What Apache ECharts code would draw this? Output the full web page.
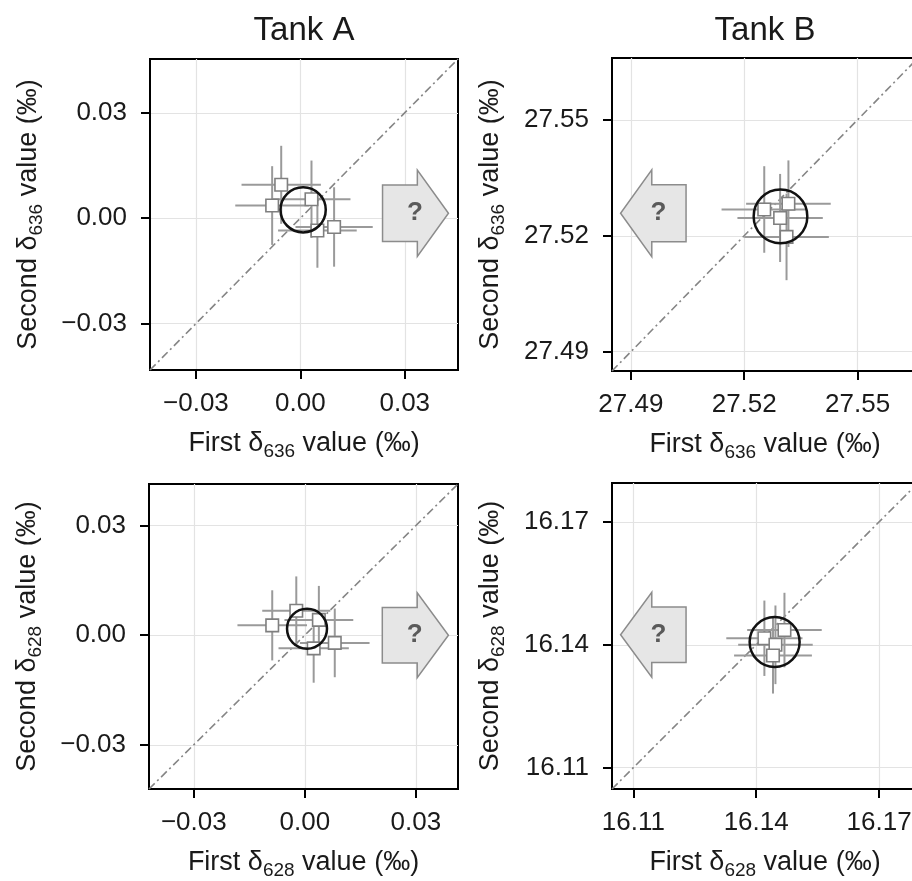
<!DOCTYPE html>
<html>
<head>
<meta charset="utf-8">
<script src="https://cdn.jsdelivr.net/npm/echarts@6/dist/echarts.min.js"></script>
<style>
html, body { margin: 0; padding: 0; background: #fff; overflow: hidden; }
#chart { width: 920px; height: 881px; }
</style>
</head>
<body>
<div id="chart"></div>
<script>
// tick labels
var ticksA = [-0.03, 0, 0.03];
var ticksB636 = [27.49, 27.52, 27.55];
var ticksB628 = [16.11, 16.14, 16.17];

// axis limits (same for first and second value)
var rangeA636 = [-0.0432, 0.0453];
var rangeB636 = [27.485, 27.566];
var rangeA628 = [-0.0421, 0.0414];
var rangeB628 = [16.1048, 16.1795];

// Tank A, d636
var firstA636 = [-0.0055, -0.0081, 0.0032, 0.0049, 0.0097];
var secondA636 = [0.0095, 0.0036, 0.0054, -0.0035, -0.0025];
var errFirstA636 = [0.0114, 0.0106, 0.0112, 0.0113, 0.0111];
var errSecondA636 = [0.0111, 0.0112, 0.0110, 0.0106, 0.0113];
var meanA636 = [0.0008, 0.0024];
var radiusA636 = 0.0065;

// Tank B, d636
var firstB636 = [27.5253, 27.5317, 27.5295, 27.5312];
var secondB636 = [27.5268, 27.5283, 27.5246, 27.5197];
var errFirstB636 = [0.0113, 0.0112, 0.0113, 0.0112];
var errSecondB636 = [0.0112, 0.0112, 0.0114, 0.0112];
var meanB636 = [27.5296, 27.5250];
var radiusB636 = 0.0071;

// Tank A, d628
var firstA628 = [-0.0088, -0.0023, 0.0038, 0.0024, 0.0081];
var secondA628 = [0.0027, 0.0067, 0.0042, -0.0036, -0.0021];
var errFirstA628 = [0.0094, 0.0092, 0.0093, 0.0095, 0.0094];
var errSecondA628 = [0.0096, 0.0094, 0.0093, 0.0094, 0.0094];
var meanA628 = [0.0006, 0.0018];
var radiusA628 = 0.0054;

// Tank B, d628
var firstB628 = [16.1420, 16.1469, 16.1447, 16.1441];
var secondB628 = [16.1416, 16.1436, 16.1400, 16.1374];
var errFirstB628 = [0.0093, 0.0091, 0.0091, 0.0095];
var errSecondB628 = [0.0092, 0.0091, 0.0096, 0.0093];
var meanB628 = [16.1445, 16.1407];
var radiusB628 = 0.0061;

var font = 'Liberation Sans';
var ink = '#1a1a1a';

var panels = [
    {iso: '636', ticks: ticksA, range: rangeA636, first: firstA636, second: secondA636,
        ex: errFirstA636, ey: errSecondA636, mean: meanA636, radius: radiusA636, dir: 1},
    {iso: '636', ticks: ticksB636, range: rangeB636, first: firstB636, second: secondB636,
        ex: errFirstB636, ey: errSecondB636, mean: meanB636, radius: radiusB636, dir: -1},
    {iso: '628', ticks: ticksA, range: rangeA628, first: firstA628, second: secondA628,
        ex: errFirstA628, ey: errSecondA628, mean: meanA628, radius: radiusA628, dir: 1},
    {iso: '628', ticks: ticksB628, range: rangeB628, first: firstB628, second: secondB628,
        ex: errFirstB628, ey: errSecondB628, mean: meanB628, radius: radiusB628, dir: -1}
];

var grids = [
    {left: 150, top: 59, width: 308, height: 311},
    {left: 612, top: 58, width: 306, height: 313},
    {left: 149, top: 484, width: 309, height: 311},
    {left: 612, top: 483, width: 306, height: 311}
];

function fmt(v) {
    return v.toFixed(2).replace('-', '\u2212');
}

var nameStyle = {
    fontSize: 27, fontFamily: font, color: ink, lineHeight: 34,
    rich: {s: {fontSize: 19, fontFamily: font, color: ink, lineHeight: 18, verticalAlign: 'bottom'}}
};

function axis(i, p, isX) {
    return {
        gridIndex: i,
        type: 'value',
        min: p.range[0],
        max: p.range[1],
        name: (isX ? 'First' : 'Second') + ' \u03b4{s|' + p.iso + '} value (\u2030)',
        nameLocation: 'middle',
        nameGap: isX ? 57 : 104,
        nameRotate: isX ? 0 : 90,
        nameTextStyle: nameStyle,
        axisLine: {show: true, onZero: false, lineStyle: {color: '#000', width: 2}},
        axisTick: {show: true, customValues: p.ticks, length: 9, lineStyle: {color: '#000', width: 2}},
        axisLabel: {customValues: p.ticks, formatter: fmt, fontSize: 26, fontFamily: font, color: ink, margin: isX ? 21 : 23},
        splitLine: {show: true, lineStyle: {color: '#e3e3e3', width: 1.2}}
    };
}

var xAxes = [], yAxes = [], series = [];
panels.forEach(function (p, i) {
    xAxes.push(axis(i, p, true));
    yAxes.push(axis(i, p, false));

    var pts = p.first.map(function (v, k) {
        return [v, p.second[k], p.ex[k], p.ey[k]];
    });

    // 1:1 line
    series.push({
        type: 'line', xAxisIndex: i, yAxisIndex: i, z: 1, silent: true,
        symbol: 'none',
        data: [[p.range[0], p.range[0]], [p.range[1], p.range[1]]],
        lineStyle: {color: '#858585', width: 1.6, type: [8, 3.5, 2, 3.5]}
    });

    // error bars
    series.push({
        type: 'custom', xAxisIndex: i, yAxisIndex: i, z: 2, silent: true,
        data: pts,
        encode: {x: 0, y: 1},
        renderItem: function (params, api) {
            var x = api.value(0), y = api.value(1), ex = api.value(2), ey = api.value(3);
            var l = api.coord([x - ex, y]), r = api.coord([x + ex, y]);
            var t = api.coord([x, y + ey]), b = api.coord([x, y - ey]);
            var st = {stroke: '#9a9a9a', lineWidth: 2};
            return {type: 'group', children: [
                {type: 'line', shape: {x1: l[0], y1: l[1], x2: r[0], y2: r[1]}, style: st},
                {type: 'line', shape: {x1: t[0], y1: t[1], x2: b[0], y2: b[1]}, style: st}
            ]};
        }
    });

    // individual measurements
    series.push({
        type: 'scatter', xAxisIndex: i, yAxisIndex: i, z: 3, silent: true,
        symbol: 'rect', symbolSize: 12.5,
        data: pts.map(function (d) { return [d[0], d[1]]; }),
        itemStyle: {color: '#fff', borderColor: '#7f7f7f', borderWidth: 1.6, opacity: 1}
    });

    // mean circle
    series.push({
        type: 'custom', xAxisIndex: i, yAxisIndex: i, z: 4, silent: true,
        data: [[p.mean[0], p.mean[1], p.radius]],
        encode: {x: 0, y: 1},
        renderItem: function (params, api) {
            var c = api.coord([api.value(0), api.value(1)]);
            var e = api.coord([api.value(0) + api.value(2), api.value(1)]);
            return {type: 'circle', shape: {cx: c[0], cy: c[1], r: e[0] - c[0]},
                style: {fill: 'none', stroke: '#111', lineWidth: 2.5}};
        }
    });

    // block arrow with question mark
    series.push({
        type: 'custom', xAxisIndex: i, yAxisIndex: i, z: 5, silent: true,
        data: [[p.mean[0], p.mean[1]]],
        encode: {x: 0, y: 1},
        renderItem: function (params, api) {
            var cs = params.coordSys;
            var w = cs.width, h = cs.height;
            var cy = cs.y + h * 0.496;
            var bh = h * 0.091, hh = h * 0.139;
            var f = p.dir > 0 ? [0.755, 0.868, 0.969] : [0.242, 0.130, 0.028];
            var x0 = cs.x + w * f[0], x1 = cs.x + w * f[1], x2 = cs.x + w * f[2];
            var poly = [[x0, cy - bh], [x1, cy - bh], [x1, cy - hh], [x2, cy],
                [x1, cy + hh], [x1, cy + bh], [x0, cy + bh]];
            var tx = cs.x + w * (p.dir > 0 ? 0.86 : 0.152);
            return {type: 'group', children: [
                {type: 'polygon', shape: {points: poly},
                    style: {fill: '#e6e6e6', stroke: '#8c8c8c', lineWidth: 1.5}},
                {type: 'text', style: {text: '?', x: tx, y: cy, align: 'center', verticalAlign: 'middle',
                    font: 'bold 26px "Liberation Sans"', fill: '#5a5a5a'}}
            ]};
        }
    });
});

var myChart = echarts.init(document.getElementById('chart'));
var option = {
    animation: false,
    backgroundColor: '#fff',
    title: [
        {text: 'Tank A', left: 304, top: 14, textAlign: 'center', padding: 0,
            textStyle: {fontSize: 33, fontWeight: 'normal', fontFamily: font, color: ink}},
        {text: 'Tank B', left: 765, top: 14, textAlign: 'center', padding: 0,
            textStyle: {fontSize: 33, fontWeight: 'normal', fontFamily: font, color: ink}}
    ],
    grid: grids.map(function (g) {
        return {left: g.left, top: g.top, width: g.width, height: g.height,
            show: true, borderColor: '#000', borderWidth: 2, containLabel: false};
    }),
    xAxis: xAxes,
    yAxis: yAxes,
    series: series
};
myChart.setOption(option);
</script>
</body>
</html>
